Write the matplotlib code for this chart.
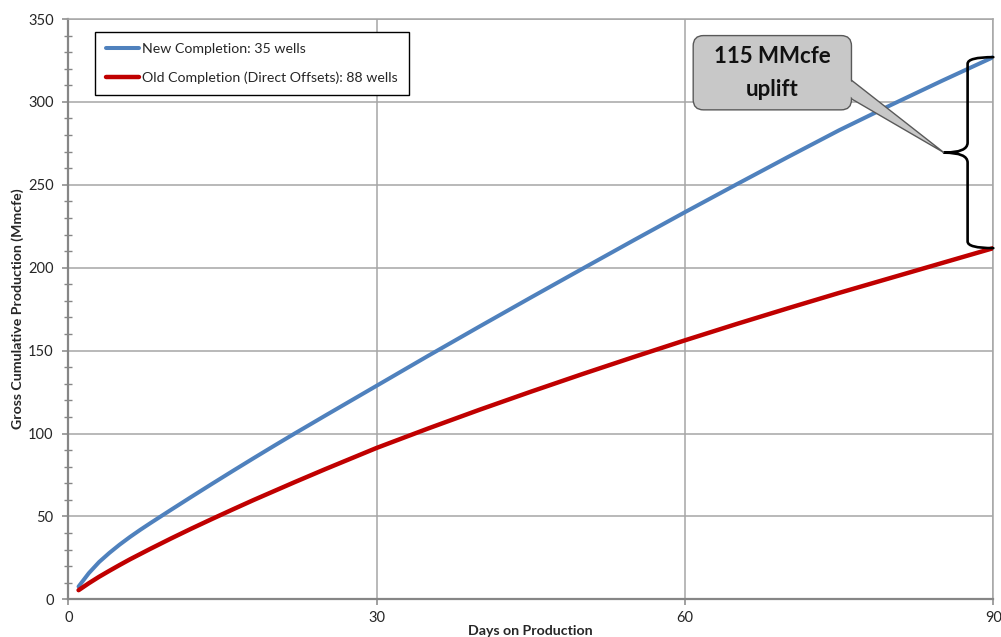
import matplotlib
matplotlib.use("Agg")
import matplotlib.pyplot as plt
from matplotlib.patches import FancyBboxPatch, Polygon, PathPatch
from matplotlib.path import Path
from matplotlib.ticker import MultipleLocator

# ---------------- data ----------------
days = [1, 2, 3, 4, 5, 6, 7, 8, 10, 12, 14, 16, 18, 20, 22, 25, 30, 35, 40,
        45, 50, 55, 60, 65, 70, 75, 80, 85, 90]
new_completion = [7.7, 15.8, 22.5, 28.0, 33.0, 37.6, 41.9, 46.0, 54.0, 61.9,
                  69.7, 77.4, 85.0, 92.5, 99.9, 110.8, 128.8, 146.8, 164.5,
                  182.0, 199.3, 216.5, 233.5, 250.2, 266.7, 282.9, 298.0,
                  312.7, 327.0]
old_completion = [5.5, 9.7, 13.6, 17.2, 20.7, 24.1, 27.3, 30.5, 36.7, 42.7,
                  48.5, 54.2, 59.8, 65.2, 70.6, 78.5, 91.3, 103.0, 114.3,
                  125.2, 135.8, 146.1, 156.2, 166.0, 175.5, 184.8, 193.8,
                  202.8, 211.8]
series_labels = ["New Completion: 35 wells",
                 "Old Completion (Direct Offsets): 88 wells"]
x_ticks = [0, 30, 60, 90]
y_ticks = [0, 50, 100, 150, 200, 250, 300, 350]
callout_text = "115 MMcfe\nuplift"
x_label = "Days on Production"
y_label = "Gross Cumulative Production (Mmcfe)"

# ---------------- styling ----------------
FONT = ["Lato", "DejaVu Sans"]
plt.rcParams["font.family"] = FONT
BLUE = "#4f81bd"
RED = "#c00000"
GRID = "#a6a6a6"
AXIS = "#868686"
TXT = "#262626"

fig = plt.figure(figsize=(10.01, 6.37), dpi=100)
ax = fig.add_axes([0.06823, 0.05918, 0.92408, 0.91099])

ax.plot(days, new_completion, color=BLUE, lw=2.9, solid_capstyle="round",
        label=series_labels[0], zorder=3)
ax.plot(days, old_completion, color=RED, lw=3.2, solid_capstyle="round",
        label=series_labels[1], zorder=3)

ax.set_xlim(x_ticks[0], x_ticks[-1])
ax.set_ylim(y_ticks[0], y_ticks[-1])
ax.set_xticks(x_ticks)
ax.set_yticks(y_ticks)
ax.yaxis.set_minor_locator(MultipleLocator(10))

ax.grid(True, which="major", color=GRID, lw=1.1, zorder=0)
ax.set_axisbelow(True)
for s in ["left", "bottom"]:
    ax.spines[s].set_color(AXIS)
    ax.spines[s].set_linewidth(1.6)
for s in ["top", "right"]:
    ax.spines[s].set_color(GRID)
    ax.spines[s].set_linewidth(1.1)

ax.tick_params(axis="both", which="major", direction="out", length=4,
               width=1.1, color=AXIS, labelsize=10.5, labelcolor=TXT)
ax.tick_params(axis="y", which="major", pad=6.5)
ax.tick_params(axis="x", which="major", pad=4.5)
ax.tick_params(axis="y", which="minor", direction="inout", length=6,
               width=1.0, color=AXIS)

ax.set_xlabel(x_label, fontsize=10.2, fontweight="bold", color=TXT,
              labelpad=0)
ax.set_ylabel(y_label, fontsize=10.2, fontweight="bold", color=TXT,
              labelpad=3)

leg = ax.legend(loc="upper left", bbox_to_anchor=(0.029, 0.978),
                borderaxespad=0, fontsize=10.2, frameon=True, fancybox=False,
                handlelength=2.3, handletextpad=0.2, labelspacing=1.15,
                borderpad=0.8)
leg.get_frame().set_edgecolor("black")
leg.get_frame().set_linewidth(1.0)
leg.get_frame().set_alpha(1)
for t in leg.get_texts():
    t.set_color(TXT)

# ---------------- curly brace between the series end values ----------------
x_end = days[-1]
y_top = new_completion[-1]
y_bot = old_completion[-1]
y_mid = (y_top + y_bot) / 2
xs = x_end - 2.5      # brace spine
xt = x_end - 4.8      # brace tip
r_end, r_mid = 4.0, 6.0
verts = [(x_end, y_top), (xs, y_top), (xs, y_top - r_end),
         (xs, y_mid + r_mid), (xs, y_mid), (xt, y_mid),
         (xs, y_mid), (xs, y_mid - r_mid),
         (xs, y_bot + r_end), (xs, y_bot), (x_end, y_bot)]
codes = [Path.MOVETO, Path.CURVE3, Path.CURVE3,
         Path.LINETO, Path.CURVE3, Path.CURVE3,
         Path.CURVE3, Path.CURVE3,
         Path.LINETO, Path.CURVE3, Path.CURVE3]
ax.add_patch(PathPatch(Path(verts, codes), fc="none", ec="black", lw=1.9,
                       zorder=6, clip_on=False, capstyle="round",
                       joinstyle="round"))

# ---------------- callout box ----------------
bx0, bx1, by0, by1 = 60.8, 76.2, 295.2, 340.0
fig.canvas.draw()
ext = ax.get_window_extent()
px_day = ext.width / (x_ticks[-1] - x_ticks[0])
px_val = ext.height / (y_ticks[-1] - y_ticks[0])
aspect = px_day / px_val

tip = (xt, y_mid)
base_hi, base_lo = 316.0, 304.0
wedge = Polygon([(bx1 - 0.6, base_hi), tip, (bx1 - 0.6, base_lo)],
                closed=True, fc="#c8c8c8", ec="#595959", lw=1.0, zorder=7)
ax.add_patch(wedge)
box = FancyBboxPatch((bx0, by0), bx1 - bx0, by1 - by0,
                     boxstyle="round,pad=0,rounding_size=1.0",
                     mutation_aspect=aspect, fc="#c8c8c8", ec="#595959",
                     lw=1.0, zorder=8)
ax.add_patch(box)


def wedge_y(x, y0):
    return y0 + (tip[1] - y0) * (x - (bx1 - 0.6)) / (tip[0] - (bx1 - 0.6))


xa, xb = bx1 - 0.6, bx1 + 0.35
d = 0.9
cover = Polygon([(xa, wedge_y(xa, base_hi) - d), (xb, wedge_y(xb, base_hi) - d),
                 (xb, wedge_y(xb, base_lo) + d), (xa, wedge_y(xa, base_lo) + d)],
                closed=True, fc="#c8c8c8", ec="none", zorder=9)
ax.add_patch(cover)

ax.text((bx0 + bx1) / 2, (by0 + by1) / 2 - 0.3, callout_text, ha="center",
        va="center", fontsize=16, fontweight="bold", color="#111111",
        linespacing=1.7, zorder=10)

fig.savefig("out.png", dpi=100)
